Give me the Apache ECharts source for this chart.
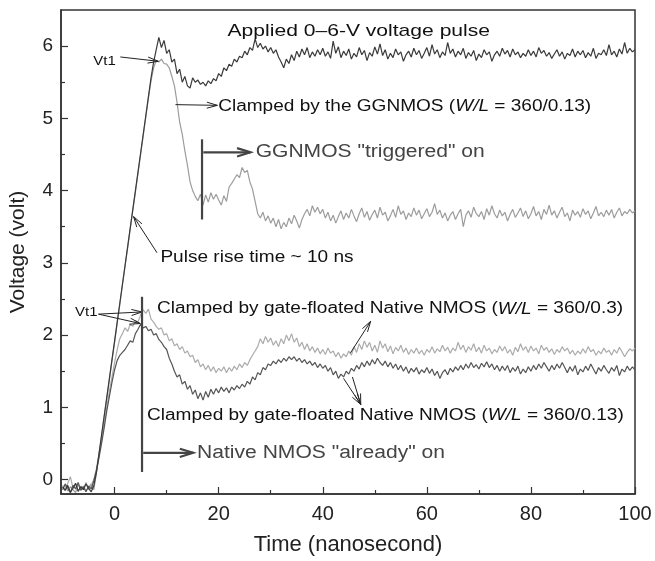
<!DOCTYPE html>
<html><head><meta charset="utf-8">
<script src="https://cdn.jsdelivr.net/npm/echarts@6/dist/echarts.min.js"></script>
<style>html,body{margin:0;padding:0;background:#fff}#c{width:655px;height:561px}</style>
</head><body><div id="c"></div>
<script>
// sampling of the oscilloscope traces (ns)
const T0 = -10, DT = 0.5;

// Applied 0-6-V voltage pulse
const appliedPulse = [
-0.10,-0.15,-0.08,-0.18,-0.12,-0.05,-0.16,-0.10,-0.14,-0.06,
-0.12,-0.17,-0.09,0.10,0.36,0.62,0.88,1.14,1.40,1.66,
1.92,2.18,2.44,2.70,2.96,3.22,3.48,3.74,4.00,4.26,
4.52,4.78,5.04,5.30,5.56,5.78,5.95,6.12,5.98,6.08,
5.90,5.95,5.78,5.82,5.62,5.68,5.50,5.58,5.45,5.42,
5.56,5.50,5.53,5.47,5.50,5.45,5.52,5.48,5.55,5.52,
5.62,5.58,5.70,5.66,5.75,5.72,5.82,5.78,5.86,5.84,
5.93,5.88,5.98,5.94,6.10,5.98,6.04,5.96,6.00,5.92,
5.98,5.90,5.95,5.85,5.78,5.70,5.82,5.76,5.88,5.80,
5.93,5.85,5.96,5.88,5.98,5.84,5.92,5.86,5.95,5.88,
5.97,5.86,5.92,5.83,6.07,5.90,5.99,5.84,5.93,5.87,
5.96,5.82,5.90,5.85,5.98,5.88,5.94,5.80,5.91,5.86,
5.99,5.89,6.03,5.87,5.95,5.82,5.90,5.84,5.96,5.88,
5.92,5.79,5.88,5.93,5.85,5.97,5.88,5.94,5.83,5.90,
5.98,5.86,6.02,5.89,5.95,5.84,5.92,5.87,6.05,5.90,
5.96,5.85,5.93,5.88,5.97,5.83,5.91,5.86,5.94,5.80,
5.89,5.84,5.95,5.88,5.92,5.79,5.88,5.93,5.86,5.97,
5.89,5.94,5.85,5.96,5.88,5.92,5.84,5.90,5.86,5.95,
5.87,5.93,5.85,5.98,5.90,5.94,5.86,5.91,5.83,5.89,
5.95,5.86,5.92,5.82,5.90,5.87,5.96,5.85,5.93,5.88,
5.94,5.84,5.91,5.86,5.97,5.83,5.90,5.88,5.95,5.87,
6.02,5.88,5.93,5.85,5.96,5.89,6.05,5.90,5.97,5.92,
5.95];

// Clamped by the GGNMOS (W/L = 360/0.13)
const ggnmos = [
-0.12,-0.08,-0.16,-0.10,-0.14,-0.18,-0.07,-0.13,-0.09,-0.16,
-0.11,-0.06,-0.14,0.08,0.34,0.60,0.87,1.12,1.38,1.65,
1.90,2.17,2.42,2.69,2.95,3.20,3.47,3.73,3.98,4.24,
4.50,4.76,5.02,5.28,5.52,5.70,5.80,5.78,5.82,5.76,
5.75,5.70,5.58,5.45,5.22,4.95,4.78,4.55,4.35,4.12,
4.00,3.92,3.86,3.95,3.80,3.94,3.84,3.97,3.88,3.95,
3.87,3.80,3.93,3.85,4.05,4.10,4.16,4.22,4.18,4.32,
4.25,4.28,4.12,4.02,3.85,3.68,3.62,3.70,3.58,3.65,
3.55,3.62,3.50,3.60,3.47,3.56,3.50,3.62,3.54,3.66,
3.58,3.48,3.60,3.68,3.74,3.65,3.79,3.70,3.77,3.68,
3.74,3.62,3.70,3.58,3.66,3.55,3.64,3.72,3.60,3.69,
3.62,3.74,3.65,3.57,3.68,3.76,3.63,3.71,3.59,3.67,
3.73,3.62,3.77,3.66,3.70,3.58,3.65,3.74,3.63,3.79,
3.67,3.72,3.60,3.69,3.64,3.76,3.66,3.73,3.61,3.68,
3.75,3.64,3.70,3.82,3.67,3.73,3.62,3.69,3.58,3.66,
3.71,3.60,3.68,3.74,3.50,3.66,3.72,3.63,3.77,3.68,
3.64,3.71,3.60,3.75,3.66,3.79,3.68,3.62,3.73,3.65,
3.70,3.58,3.67,3.74,3.63,3.69,3.76,3.64,3.72,3.61,
3.68,3.78,3.65,3.71,3.60,3.74,3.67,3.80,3.66,3.72,
3.62,3.70,3.77,3.64,3.69,3.58,3.73,3.66,3.71,3.63,
3.75,3.67,3.72,3.61,3.69,3.78,3.65,3.70,3.64,3.73,
3.66,3.74,3.62,3.70,3.76,3.65,3.71,3.68,3.74,3.69,
3.72];

// Clamped by gate-floated Native NMOS (W/L = 360/0.3)
const nativeW03 = [
-0.08,-0.15,-0.05,0.04,-0.12,-0.06,-0.17,-0.09,-0.13,-0.04,
-0.14,-0.08,0.00,0.15,0.35,0.55,0.78,1.00,1.22,1.42,
1.62,1.80,1.95,2.02,2.10,2.05,2.15,2.12,2.20,2.18,
2.28,2.35,2.30,2.36,2.22,2.18,2.12,2.08,2.10,2.00,
2.02,1.92,1.95,1.85,1.88,1.80,1.84,1.75,1.78,1.70,
1.72,1.62,1.66,1.56,1.60,1.52,1.58,1.50,1.56,1.48,
1.54,1.50,1.56,1.48,1.55,1.50,1.57,1.52,1.60,1.55,
1.62,1.58,1.66,1.72,1.78,1.84,1.95,1.88,1.98,1.90,
1.96,1.86,1.92,1.84,1.95,1.88,2.00,1.92,2.02,1.90,
1.96,1.84,1.90,1.80,1.88,1.78,1.84,1.76,1.82,1.74,
1.80,1.73,1.82,1.75,1.78,1.70,1.76,1.68,1.74,1.70,
1.78,1.72,1.84,1.76,1.88,1.80,1.92,1.83,1.90,1.78,
1.86,1.76,1.92,1.82,1.88,1.77,1.85,1.74,1.83,1.78,
1.86,1.76,1.82,1.73,1.80,1.75,1.82,1.74,1.79,1.72,
1.80,1.76,1.84,1.75,1.81,1.77,1.86,1.78,1.83,1.75,
1.82,1.78,1.90,1.80,1.86,1.76,1.84,1.79,1.88,1.77,
1.83,1.75,1.86,1.78,1.82,1.74,1.80,1.76,1.85,1.78,
1.84,1.75,1.80,1.72,1.83,1.77,1.88,1.79,1.84,1.76,
1.85,1.78,1.82,1.74,1.86,1.79,1.83,1.76,1.81,1.73,
1.80,1.76,1.84,1.78,1.82,1.74,1.79,1.72,1.78,1.74,
1.81,1.75,1.84,1.77,1.80,1.72,1.78,1.74,1.82,1.76,
1.79,1.72,1.80,1.75,1.83,1.77,1.70,1.76,1.81,1.78,
1.82];

// Clamped by gate-floated Native NMOS (W/L = 360/0.13)
const nativeW013 = [
-0.14,-0.06,-0.12,-0.18,-0.08,-0.13,-0.04,-0.15,-0.10,-0.17,
-0.09,-0.13,-0.02,0.12,0.30,0.50,0.72,0.95,1.15,1.35,
1.52,1.65,1.72,1.76,1.80,1.86,1.92,1.90,2.02,2.08,
2.15,2.10,2.12,2.06,2.08,2.00,2.02,1.94,1.90,1.84,
1.80,1.68,1.60,1.50,1.42,1.45,1.32,1.36,1.25,1.30,
1.18,1.24,1.12,1.20,1.10,1.22,1.14,1.25,1.18,1.26,
1.20,1.28,1.22,1.27,1.20,1.28,1.24,1.30,1.26,1.32,
1.28,1.36,1.32,1.42,1.38,1.48,1.45,1.55,1.52,1.60,
1.58,1.64,1.60,1.66,1.62,1.68,1.64,1.70,1.66,1.70,
1.64,1.68,1.62,1.66,1.60,1.64,1.58,1.62,1.55,1.60,
1.54,1.58,1.50,1.55,1.45,1.50,1.40,1.46,1.42,1.50,
1.46,1.54,1.50,1.58,1.53,1.62,1.56,1.64,1.58,1.66,
1.60,1.68,1.62,1.58,1.64,1.56,1.62,1.54,1.60,1.52,
1.58,1.50,1.56,1.47,1.54,1.49,1.55,1.46,1.52,1.48,
1.55,1.47,1.53,1.44,1.50,1.40,1.48,1.52,1.45,1.54,
1.49,1.56,1.51,1.58,1.52,1.60,1.54,1.62,1.55,1.59,
1.53,1.61,1.56,1.63,1.55,1.60,1.52,1.58,1.50,1.57,
1.51,1.58,1.48,1.55,1.50,1.57,1.46,1.53,1.48,1.56,
1.50,1.58,1.52,1.60,1.54,1.62,1.56,1.50,1.58,1.52,
1.60,1.54,1.62,1.55,1.48,1.56,1.50,1.58,1.45,1.53,
1.49,1.57,1.51,1.60,1.53,1.46,1.55,1.50,1.58,1.52,
1.47,1.55,1.50,1.58,1.44,1.53,1.49,1.57,1.51,1.56,
1.52];

const xMajorTicks = [0, 20, 40, 60, 80, 100];
const xMinorTicks = [10, 30, 50, 70, 90];
const yMajorTicks = [0, 1, 2, 3, 4, 5, 6];
const yMinorTicks = [0.5, 1.5, 2.5, 3.5, 4.5, 5.5];

const FONT = '"Liberation Sans", Arial, Helvetica, sans-serif';

function toPairs(arr) { return arr.map((v, i) => [T0 + i * DT, v]); }

const chart = echarts.init(document.getElementById('c'), null, {renderer: 'canvas'});
const axisColor = '#333';

chart.setOption({
  animation: false,
  backgroundColor: '#fff',
  grid: {left: 61, right: 20, top: 10, bottom: 67, show: true, borderColor: axisColor, borderWidth: 1.5, backgroundColor: 'transparent'},
  xAxis: [{
    type: 'value', min: -10.3, max: 100, position: 'bottom',
    name: 'Time (nanosecond)', nameLocation: 'middle', nameGap: 40,
    nameTextStyle: {fontSize: 22, color: '#222', fontFamily: FONT},
    axisLine: {show: true, onZero: false, lineStyle: {color: axisColor, width: 1.5}},
    axisTick: {inside: true, length: 7, customValues: xMajorTicks, lineStyle: {color: axisColor, width: 1.2}},
    axisLabel: {customValues: xMajorTicks, fontSize: 20, color: '#222', margin: 10, fontFamily: FONT},
    splitLine: {show: false}
  }, {
    type: 'value', min: -10.3, max: 100, position: 'bottom',
    axisLine: {show: false, onZero: false},
    axisTick: {inside: true, length: 4, customValues: xMinorTicks, lineStyle: {color: axisColor, width: 1.2}},
    axisLabel: {show: false}, splitLine: {show: false}
  }],
  yAxis: [{
    type: 'value', min: -0.2, max: 6.5, position: 'left',
    name: 'Voltage (volt)', nameLocation: 'middle', nameGap: 32,
    nameTextStyle: {fontSize: 21, color: '#222', fontFamily: FONT},
    axisLine: {show: true, onZero: false, lineStyle: {color: axisColor, width: 1.5}},
    axisTick: {inside: true, length: 7, customValues: yMajorTicks, lineStyle: {color: axisColor, width: 1.2}},
    axisLabel: {customValues: yMajorTicks, fontSize: 19, color: '#222', margin: 8, fontFamily: FONT},
    splitLine: {show: false}
  }, {
    type: 'value', min: -0.2, max: 6.5, position: 'left',
    axisLine: {show: false, onZero: false},
    axisTick: {inside: true, length: 4, customValues: yMinorTicks, lineStyle: {color: axisColor, width: 1.2}},
    axisLabel: {show: false}, splitLine: {show: false}
  }],
  series: [
    {name: 'GGNMOS', type: 'line', data: toPairs(ggnmos), showSymbol: false, symbol: 'none', lineStyle: {color: '#9c9c9c', width: 1.2}, z: 2},
    {name: 'Native 0.3', type: 'line', data: toPairs(nativeW03), showSymbol: false, symbol: 'none', lineStyle: {color: '#ababab', width: 1.2}, z: 2},
    {name: 'Native 0.13', type: 'line', data: toPairs(nativeW013), showSymbol: false, symbol: 'none', lineStyle: {color: '#555', width: 1.2}, z: 3},
    {name: 'Applied pulse', type: 'line', data: toPairs(appliedPulse), showSymbol: false, symbol: 'none', lineStyle: {color: '#3a3a3a', width: 1.2}, z: 3}
  ]
});

// ---- annotations (anchored in data coordinates) ----
function px(p) { return chart.convertToPixel({xAxisIndex: 0, yAxisIndex: 0}, p); }

function arrow(from, to, o) {
  const p = px(from), q = px(to);
  const ang = Math.atan2(q[1] - p[1], q[0] - p[0]);
  const L = o.head, a = o.spread;
  const h1 = [q[0] - L * Math.cos(ang - a), q[1] - L * Math.sin(ang - a)];
  const h2 = [q[0] - L * Math.cos(ang + a), q[1] - L * Math.sin(ang + a)];
  const st = {stroke: o.color, lineWidth: o.width, fill: null};
  return [
    {type: 'line', silent: true, z: 10, shape: {x1: p[0], y1: p[1], x2: q[0], y2: q[1]}, style: st},
    {type: 'polyline', silent: true, z: 10, shape: {points: [h1, q, h2]}, style: st}
  ];
}
function bar(x, y1, y2, o) {
  const p = px([x, y1]), q = px([x, y2]);
  return {type: 'line', silent: true, z: 10, shape: {x1: p[0], y1: p[1], x2: q[0], y2: q[1]}, style: {stroke: o.color, lineWidth: o.width}};
}
function label(at, text, o) {
  const p = px(at);
  return {
    type: 'text', silent: true, z: 11, x: p[0], y: p[1], scaleX: o.scaleX || 1,
    style: {
      text: text, fontSize: o.size, fontFamily: FONT, fill: o.color || '#111',
      textAlign: 'left', textVerticalAlign: 'middle', align: 'left', verticalAlign: 'middle',
      rich: {i: {fontStyle: 'italic', fontSize: o.size, fontFamily: FONT, fill: o.color || '#111'}}
    }
  };
}

const thin = {head: 11, spread: 0.28, color: '#222', width: 1};
const thick = {head: 14, spread: 0.3, color: '#444', width: 2.2};

const g = [];
g.push(label([21.7, 6.21], 'Applied 0\u20136-V voltage pulse', {size: 17, scaleX: 1.24}));
g.push(label([-4.1, 5.79], 'Vt1', {size: 13, scaleX: 1.15}));
g.push(...arrow([1.1, 5.85], [8.4, 5.79], thin));
g.push(label([19.9, 5.16], 'Clamped by the GGNMOS ({i|W/L} = 360/0.13)', {size: 16, scaleX: 1.19}));
g.push(...arrow([11.7, 5.19], [19.75, 5.18], thin));
g.push(bar(16.8, 4.71, 3.60, thick));
g.push(...arrow([17.05, 4.53], [26.1, 4.53], thick));
g.push(label([27.1, 4.53], 'GGNMOS "triggered" on', {size: 18, scaleX: 1.17, color: '#444'}));
g.push(label([8.8, 3.07], 'Pulse rise time ~ 10 ns', {size: 16, scaleX: 1.19}));
g.push(...arrow([8.15, 3.14], [3.65, 3.64], thin));
g.push(label([-7.6, 2.31], 'Vt1', {size: 13, scaleX: 1.15}));
g.push(...arrow([-3.1, 2.29], [5.27, 2.32], thin));
g.push(...arrow([-3.1, 2.29], [4.94, 2.16], thin));
g.push(label([8.15, 2.36], 'Clamped by gate-floated Native NMOS ({i|W/L} = 360/0.3)', {size: 16, scaleX: 1.19}));
g.push(...arrow([45.3, 1.75], [49.2, 2.19], thin));
g.push(label([6.23, 0.89], 'Clamped by gate-floated Native NMOS ({i|W/L} = 360/0.13)', {size: 16, scaleX: 1.19}));
g.push(...arrow([44.0, 1.40], [47.3, 1.04], thin));
g.push(...arrow([45.7, 1.42], [47.3, 1.04], thin));
g.push(bar(5.27, 2.53, 0.105, thick));
g.push(...arrow([5.5, 0.37], [15.1, 0.37], thick));
g.push(label([15.85, 0.37], 'Native NMOS "already" on', {size: 18, scaleX: 1.17, color: '#444'}));

chart.setOption({graphic: g});
</script>
</body></html>
